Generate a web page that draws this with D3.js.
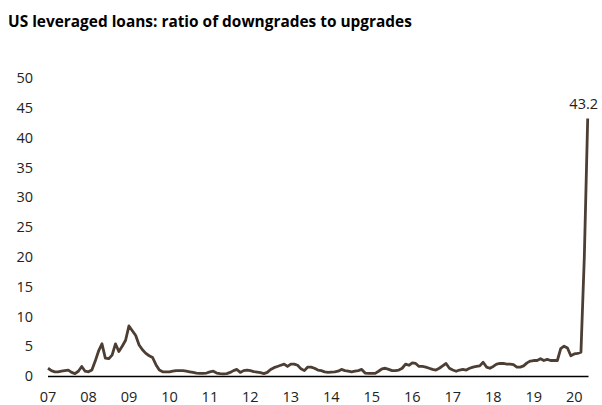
<!DOCTYPE html>
<html>
<head>
<meta charset="utf-8">
<script src="https://cdn.jsdelivr.net/npm/d3@7"></script>
<style>
  body { margin: 0; background: #fff; }
  text { font-family: "Open Sans", "Noto Sans", sans-serif; }
</style>
</head>
<body>
<div id="chart"></div>
<script>
// monthly ratio, Jan 2007 .. May 2020
const startYear = 2007;
const ratio = [
  1.3, 0.9, 0.7, 0.7, 0.8, 0.9, 1.0, 0.6, 0.4, 0.8, 1.6, 0.8,
  0.7, 1.0, 2.5, 4.2, 5.4, 3.0, 2.9, 3.5, 5.4, 4.1, 5.0, 6.0,
  8.4, 7.6, 6.8, 5.2, 4.4, 3.8, 3.4, 3.1, 1.9, 1.0, 0.7, 0.7,
  0.7, 0.8, 0.9, 0.9, 0.9, 0.8, 0.7, 0.6, 0.5, 0.45, 0.45, 0.5,
  0.7, 0.8, 0.5, 0.4, 0.35, 0.4, 0.6, 0.9, 1.1, 0.6, 0.9, 1.0,
  0.9, 0.75, 0.65, 0.55, 0.4, 0.6, 1.1, 1.4, 1.6, 1.8, 2.0, 1.6,
  2.0, 2.0, 1.8, 1.2, 0.9, 1.5, 1.5, 1.3, 1.0, 0.9, 0.7, 0.6,
  0.65, 0.7, 0.8, 1.1, 0.9, 0.8, 0.7, 0.8, 0.9, 1.1, 0.5, 0.45,
  0.45, 0.45, 0.8, 1.2, 1.3, 1.1, 0.9, 0.9, 1.0, 1.3, 2.0, 1.8,
  2.2, 2.1, 1.6, 1.6, 1.5, 1.3, 1.1, 1.0, 1.3, 1.7, 2.1, 1.3,
  1.0, 0.8, 1.0, 1.1, 1.0, 1.3, 1.5, 1.6, 1.7, 2.3, 1.5, 1.3,
  1.6, 2.0, 2.1, 2.1, 2.0, 2.0, 1.9, 1.5, 1.5, 1.7, 2.2, 2.5,
  2.6, 2.6, 2.9, 2.6, 2.8, 2.6, 2.6, 2.6, 4.6, 5.0, 4.7, 3.4,
  3.7, 3.8, 4.0, 20.0, 43.2
];
const yTicks = [0, 5, 10, 15, 20, 25, 30, 35, 40, 45, 50];
const xTickLabels = ["07", "08", "09", "10", "11", "12", "13", "14", "15", "16", "17", "18", "19", "20"];
const title = "US leveraged loans: ratio of downgrades to upgrades";

const width = 602, height = 405;
const svg = d3.select("#chart").append("svg")
  .attr("width", width)
  .attr("height", height);

const x = d3.scaleLinear()
  .domain([0, ratio.length - 1])
  .range([48, 587.7]);
const y = d3.scaleLinear()
  .domain([0, 50])
  .range([376, 78]);

// title, fitted to the reference width
const t = svg.append("text")
  .attr("x", 8)
  .attr("y", 27)
  .attr("font-size", 16)
  .attr("font-weight", 700)
  .attr("fill", "#000")
  .text(title);
const tw = t.node().getComputedTextLength();
t.attr("font-size", 16 * 404 / tw);

// y labels
svg.append("g")
  .selectAll("text")
  .data(yTicks)
  .join("text")
  .attr("x", 33)
  .attr("y", d => y(d))
  .attr("dy", "0.36em")
  .attr("text-anchor", "end")
  .attr("font-size", 14.5)
  .attr("fill", "#222")
  .text(d => d);

// x labels at the start of each year
svg.append("g")
  .selectAll("text")
  .data(xTickLabels)
  .join("text")
  .attr("x", (d, i) => x(i * 12))
  .attr("y", 402)
  .attr("text-anchor", "middle")
  .attr("font-size", 14.5)
  .attr("fill", "#222")
  .text(d => d);

// baseline
svg.append("line")
  .attr("x1", x(0))
  .attr("x2", 588.5)
  .attr("y1", y(0) + 0.5)
  .attr("y2", y(0) + 0.5)
  .attr("stroke", "#000")
  .attr("stroke-width", 1.3);

const line = d3.line()
  .x((d, i) => x(i))
  .y(d => y(d));

svg.append("path")
  .datum(ratio)
  .attr("fill", "none")
  .attr("stroke", "#4d3e34")
  .attr("stroke-width", 2.8)
  .attr("stroke-linejoin", "round")
  .attr("d", line);

// end value label
const last = ratio.length - 1;
svg.append("text")
  .attr("x", x(last) - 4)
  .attr("y", y(ratio[last]) - 10)
  .attr("text-anchor", "middle")
  .attr("font-size", 14.5)
  .attr("fill", "#222")
  .text(ratio[last].toFixed(1));
</script>
</body>
</html>
